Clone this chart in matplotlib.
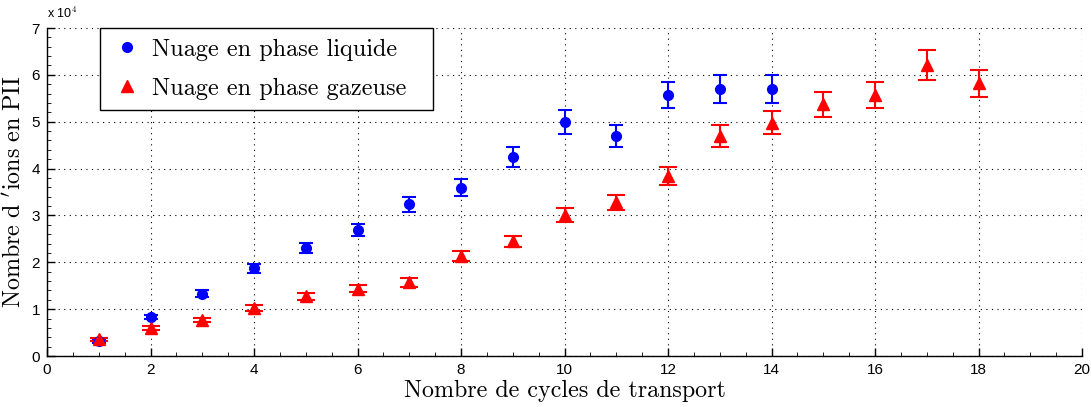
import matplotlib
matplotlib.use("Agg")
import matplotlib.pyplot as plt
from matplotlib.lines import Line2D
from matplotlib.ticker import AutoMinorLocator, MultipleLocator

# Ion counts (units of 1e4) versus number of transport cycles
cycles_liquid = [1, 2, 3, 4, 5, 6, 7, 8, 9, 10, 11, 12, 13, 14]
ions_liquid = [0.31, 0.83, 1.33, 1.87, 2.30, 2.69, 3.24, 3.59, 4.25, 4.99, 4.70, 5.57, 5.70, 5.70]
err_liquid = [0.03, 0.05, 0.07, 0.09, 0.11, 0.13, 0.16, 0.18, 0.21, 0.25, 0.24, 0.28, 0.29, 0.29]

cycles_gas = [1, 2, 3, 4, 5, 6, 7, 8, 9, 10, 11, 12, 13, 14, 15, 16, 17, 18]
ions_gas = [0.36, 0.59, 0.77, 1.03, 1.27, 1.44, 1.57, 2.13, 2.45, 3.01, 3.28, 3.85, 4.70, 4.98, 5.37, 5.57, 6.21, 5.82]
err_gas = [0.03, 0.04, 0.05, 0.06, 0.07, 0.08, 0.09, 0.11, 0.12, 0.15, 0.16, 0.19, 0.235, 0.25, 0.27, 0.28, 0.31, 0.29]

label_liquid = "Nuage en phase liquide"
label_gas = "Nuage en phase gazeuse"
xlabel = "Nombre de cycles de transport"
ylabel = r"$\mathrm{Nombre\ d\ }^{\prime}\mathrm{ions\ en\ PII}$"

serif = ["cmr10", "DejaVu Serif"]
plt.rcParams["font.family"] = ["Liberation Sans", "DejaVu Sans"]
plt.rcParams["mathtext.fontset"] = "cm"

fig = plt.figure(figsize=(10.91, 4.07), dpi=100)
ax = fig.add_axes([47 / 1091, 1 - 356 / 407, (1082 - 47) / 1091, (356 - 28) / 407])

ax.errorbar(cycles_liquid, ions_liquid, yerr=err_liquid, fmt="o", color="#0000ff",
            markersize=7, capsize=4.8, elinewidth=1.5, capthick=1.5, zorder=3)
ax.errorbar(cycles_gas, ions_gas, yerr=err_gas, fmt="^", color="#ff0000",
            markersize=8, capsize=6.4, elinewidth=1.5, capthick=1.5, zorder=3)

ax.set_xlim(0, 20)
ax.set_ylim(0, 7)
ax.xaxis.set_major_locator(MultipleLocator(2))
ax.yaxis.set_major_locator(MultipleLocator(1))
ax.xaxis.set_minor_locator(AutoMinorLocator(4))
ax.yaxis.set_minor_locator(AutoMinorLocator(5))

ax.grid(True, which="major", linestyle=(0, (1, 4)), color="black", linewidth=0.8)
for side in ("top", "right"):
    ax.spines[side].set_visible(False)
for side in ("left", "bottom"):
    ax.spines[side].set_linewidth(1.0)

ax.tick_params(which="major", direction="in", length=6, width=1, labelsize=11, pad=5)
ax.tick_params(which="minor", direction="in", length=3, width=0.6)

ax.text(0.0, 1.02, r"x 10$^{4}$", transform=ax.transAxes, fontsize=9, ha="left", va="bottom")

ax.set_xlabel(xlabel, fontsize=17.3, family=serif, labelpad=2)
ax.set_ylabel(ylabel, fontsize=17.3, labelpad=4)

handles = [
    Line2D([], [], linestyle="none", marker="o", color="#0000ff", markersize=7),
    Line2D([], [], linestyle="none", marker="^", color="#ff0000", markersize=8),
]
leg = ax.legend(handles, [label_liquid, label_gas], loc="upper left",
                bbox_to_anchor=(53 / 1035, 0.0, (433 - 100) / 1035, 1.0), mode="expand",
                borderaxespad=0, frameon=True, fancybox=False, framealpha=1,
                edgecolor="black", prop={"family": serif, "size": 17.5},
                handletextpad=0.33, borderpad=0.43, labelspacing=0.7, handlelength=1.4)
leg.get_frame().set_linewidth(1.0)

fig.savefig("out.png", dpi=100)
